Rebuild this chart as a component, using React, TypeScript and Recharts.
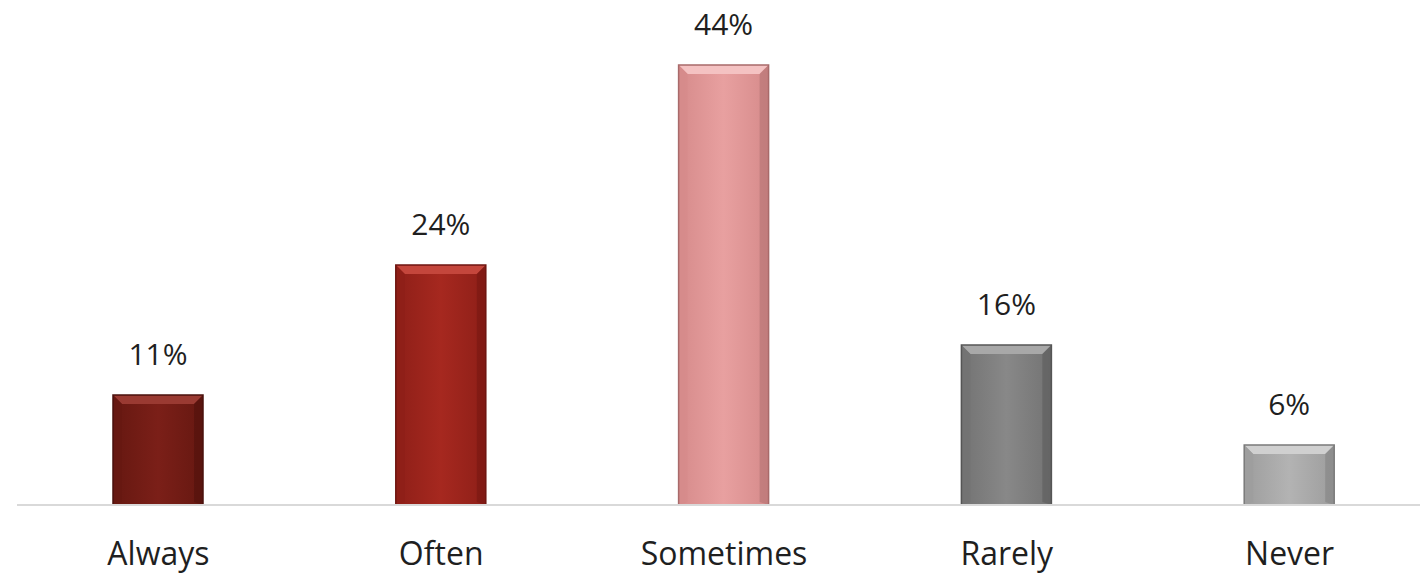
import React from "react";
import { BarChart, Bar, XAxis, YAxis, LabelList } from "recharts";

const categories = ["Always", "Often", "Sometimes", "Rarely", "Never"];
const values = [11, 24, 44, 16, 6];
const barColors = ["#7b1f18", "#a6281f", "#e8a0a0", "#888888", "#b3b3b3"];
const edgeColors = ["#4a100c", "#6e1510", "#a86a6a", "#555555", "#7a7a7a"];
const lightColors = ["#9a3a32", "#c4463c", "#f4c2c2", "#a8a8a8", "#d0d0d0"];
const darkColors = ["#661811", "#8e1f18", "#d68b8b", "#737373", "#9d9d9d"];

const data = categories.map((c, i) => ({ name: c, value: values[i] }));

const FONT = "'Open Sans', sans-serif";

function BevelBar(props: any) {
  const { x, y, width, height, index } = props;
  if (!height || height <= 0) return null;
  const b = 9;
  const base = barColors[index];
  const edge = edgeColors[index];
  const light = lightColors[index];
  const dark = darkColors[index];
  const gid = `g${index}`;
  return (
    <g>
      <defs>
        <linearGradient id={gid} x1="0" y1="0" x2="1" y2="0">
          <stop offset="0" stopColor={dark} />
          <stop offset="0.5" stopColor={base} />
          <stop offset="1" stopColor={dark} />
        </linearGradient>
      </defs>
      <rect x={x} y={y} width={width} height={height} fill={`url(#${gid})`} />
      <polygon
        points={`${x},${y} ${x + width},${y} ${x + width - b},${y + b} ${x + b},${y + b}`}
        fill={light}
      />
      <polygon
        points={`${x},${y} ${x + b},${y + b} ${x + b},${y + height - 3} ${x},${y + height}`}
        fill={dark}
        opacity={0.8}
      />
      <polygon
        points={`${x + width},${y} ${x + width - b},${y + b} ${x + width - b},${y + height - 3} ${x + width},${y + height}`}
        fill={edge}
        opacity={0.45}
      />
      <rect x={x} y={y} width={width} height={height} fill="none" stroke={edge} strokeWidth={1.5} />
    </g>
  );
}

function CatTick(props: any) {
  const { x, y, payload } = props;
  return (
    <text x={x} y={y + 60} textAnchor="middle" fontFamily={FONT} fontSize={32} fill="#1f1f1f">
      {payload.value}
    </text>
  );
}

export default function App() {
  return (
    <div style={{ position: "absolute", left: 0, top: 0, width: 1420, height: 573, overflow: "hidden", background: "#fff" }}>
      <BarChart
        width={1440}
        height={573}
        data={data}
        margin={{ top: 5, right: 9, left: 17, bottom: 8 }}
      >
        <XAxis
          dataKey="name"
          axisLine={{ stroke: "#d9d9d9", strokeWidth: 2 }}
          tickLine={false}
          tickSize={0}
          tickMargin={0}
          height={60}
          tick={<CatTick />}
          interval={0}
        />
        <YAxis hide domain={[0, 50]} />
        <Bar dataKey="value" barSize={90} isAnimationActive={false} shape={(p: any) => <BevelBar {...p} />}>
          <LabelList
            dataKey="value"
            position="top"
            offset={30}
            formatter={(v: any) => `${v}%`}
            style={{ fontFamily: FONT, fontSize: 30, fill: "#1f1f1f" }}
          />
        </Bar>
      </BarChart>
    </div>
  );
}
